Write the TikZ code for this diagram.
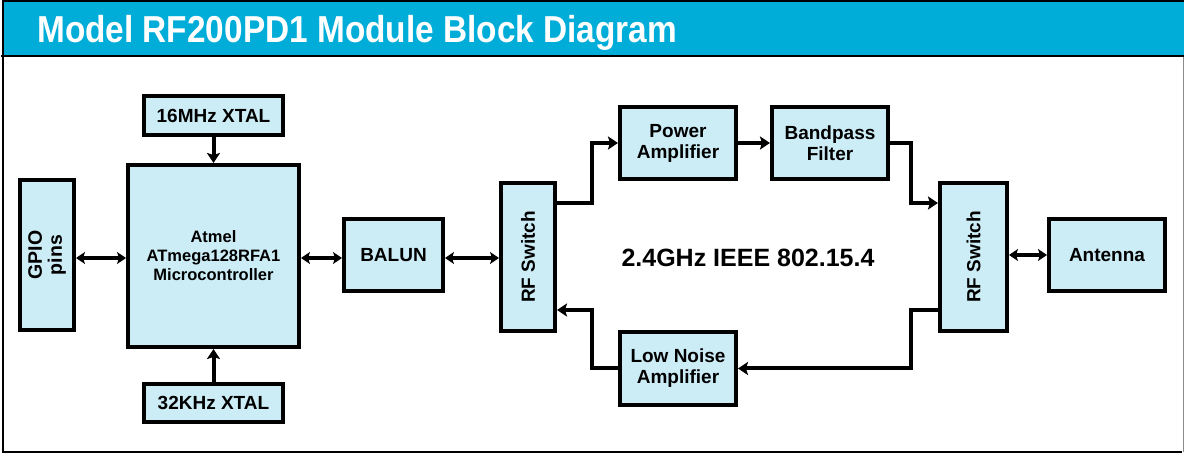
\documentclass[tikz,border=0pt]{standalone}
\usepackage{fontspec}
\setmainfont{Liberation Sans}
\newfontfamily\titlefont{Liberation Sans}[FakeStretch=0.89]
\usetikzlibrary{arrows.meta}
\definecolor{barblue}{RGB}{0,173,216}
\definecolor{boxfill}{RGB}{204,236,246}
\tikzset{
  blk/.style={draw=black, line width=4pt, fill=boxfill, align=center, inner sep=0pt,
    font=\bfseries\fontsize{19}{21}\selectfont},
  arr/.style={line width=4pt, -{Stealth[length=10pt,width=13pt,inset=2pt]}},
  dbl/.style={line width=3.5pt, {Stealth[length=9pt,width=12pt,inset=2pt]}-{Stealth[length=9pt,width=12pt,inset=2pt]}},
}
\begin{document}
\begin{tikzpicture}[x=1pt,y=-1pt]
\useasboundingbox (0,0) rectangle (1184,454);
% frame
\fill[barblue] (2,1) rectangle (1184,56);
\draw[line width=2pt] (1,56) -- (1184,56);
\draw[line width=1.5pt] (1184,1) -- (3,1) -- (3,452) -- (1182,452);
\draw[line width=1pt, black!45] (1183,57) -- (1183,452);
\node[anchor=base west, inner sep=0pt, text=white, font=\titlefont\bfseries\fontsize{37.5}{40}\selectfont] (title) at (37,43) {Model RF200PD1 Module Block Diagram};
% blocks
\node[blk, minimum width=139pt, minimum height=39pt] (x16) at (213.5,115.5) {16MHz XTAL};
\node[blk, minimum width=171pt, minimum height=182pt, font=\bfseries\fontsize{16.5}{19}\selectfont] (mcu) at (213.5,256) {Atmel\\ATmega128RFA1\\Microcontroller};
\node[blk, minimum width=54pt, minimum height=150pt] (gpio) at (47,255) {};
\node[rotate=90, align=center, inner sep=0pt, font=\bfseries\fontsize{19.5}{20}\selectfont] (gpiot) at (gpio.center) {GPIO\\pins};
\node[blk, minimum width=139pt, minimum height=38pt] (x32) at (213.5,403) {32KHz XTAL};
\node[blk, minimum width=99pt, minimum height=72pt] (balun) at (393.5,255) {BALUN};
\node[blk, minimum width=54pt, minimum height=148pt] (rfl) at (528,257) {};
\node[rotate=90, inner sep=0pt, font=\bfseries\fontsize{19}{21}\selectfont] (rflt) at (rfl.center) {RF Switch};
\node[blk, minimum width=116pt, minimum height=72pt] (pa) at (678,143) {Power\\Amplifier};
\node[blk, minimum width=116pt, minimum height=72pt] (bp) at (830,143) {Bandpass\\Filter};
\node[blk, minimum width=116pt, minimum height=73pt] (lna) at (678,368.5) {Low Noise\\Amplifier};
\node[blk, minimum width=67pt, minimum height=148pt] (rfr) at (973.5,257) {};
\node[rotate=90, inner sep=0pt, font=\bfseries\fontsize{19}{21}\selectfont] (rfrt) at (rfr.center) {RF Switch};
\node[blk, minimum width=116pt, minimum height=72pt] (ant) at (1107,255) {Antenna};
\node[inner sep=0pt, font=\bfseries\fontsize{25}{28}\selectfont] (band) at (748,258) {2.4GHz IEEE 802.15.4};
% connectors
\coordinate (m) at (0,258);
\coordinate (ja) at (592,203);
\coordinate (jb) at (911,203);
\coordinate (jc) at (911,310);
\coordinate (jd) at (592,310);
\draw[arr] (x16) -- (mcu);
\draw[arr] (x32) -- (mcu);
\draw[dbl] (gpio.east |- m) -- (mcu.west |- m);
\draw[dbl] (mcu.east |- m) -- (balun.west |- m);
\draw[dbl] (balun.east |- m) -- (rfl.west |- m);
\draw[arr] (rfl.east |- ja) -- (ja) |- (pa.west);
\draw[arr] (pa) -- (bp);
\draw[arr] (bp.east) -| (jb) -- (rfr.west |- jb);
\draw[arr] (rfr.west |- jc) -- (jc) |- (lna.east);
\draw[arr] (lna.west) -| (jd) -- (rfl.east |- jd);
\draw[dbl] (rfr.east |- ant.west) -- (ant.west);
\end{tikzpicture}
\end{document}
